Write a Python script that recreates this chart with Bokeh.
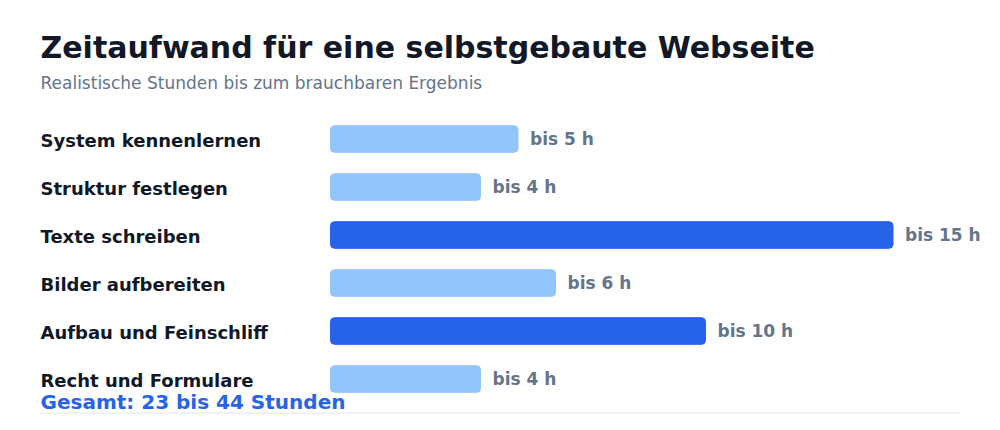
import numpy as np
from bokeh.plotting import figure
from bokeh.models import ColumnDataSource, Range1d
from bokeh.core.properties import value
from bokeh.embed import file_html
from bokeh.resources import INLINE

title_text = "Zeitaufwand für eine selbstgebaute Webseite"
subtitle_text = "Realistische Stunden bis zum brauchbaren Ergebnis"
categories = ["System kennenlernen", "Struktur festlegen", "Texte schreiben",
              "Bilder aufbereiten", "Aufbau und Feinschliff", "Recht und Formulare"]
hours = [5, 4, 15, 6, 10, 4]
highlight = [False, False, True, False, True, False]
total_text = "Gesamt: 23 bis 44 Stunden"

W, H = 984, 414
PX_PER_H = 37.5
BAR0 = 330          # pixel x of zero
ROW = 48            # pixel per row
ROW0 = 138.5        # pixel y of first row centre

x_range = Range1d(-BAR0 / PX_PER_H, (W - BAR0) / PX_PER_H)
y_range = Range1d((H - ROW0) / ROW, -ROW0 / ROW)

p = figure(width=W, height=H, x_range=x_range, y_range=y_range,
           output_backend="svg", toolbar_location=None, title=None,
           x_axis_type=None, y_axis_type=None, min_border=0,
           min_border_left=0, min_border_right=0, min_border_top=0, min_border_bottom=0)
p.outline_line_color = None
p.xgrid.visible = False
p.ygrid.visible = False
p.background_fill_color = "white"
p.border_fill_color = "white"

ys = list(range(len(categories)))
colors = ["#2563eb" if h else "#93c5fd" for h in highlight]
src = ColumnDataSource(dict(y=ys, cat=categories, hours=hours, color=colors,
                            lab=[f"bis {h} h" for h in hours]))

p.hbar(y="y", left=0, right="hours", height=0.555, color="color", source=src,
       border_radius=4)

font = value("DejaVu Sans")
LX = -290
p.text(x=0, y="y", text="cat", source=src, x_offset=LX, y_offset=1, text_baseline="middle",
       text_align="left", text_font=font, text_font_style="bold",
       text_font_size="18px", text_color="#111827")
p.text(x="hours", y="y", text="lab", source=src, x_offset=12, text_baseline="middle",
       text_align="left", text_font=font, text_font_style="bold",
       text_font_size="17px", text_color="#64748b")

p.text(x=[0], y=[(47 - ROW0) / ROW], text=[title_text], x_offset=LX,
       text_baseline="middle", text_font=font, text_font_style="bold",
       text_font_size="30px", text_color="#111827")
p.text(x=[0], y=[(82 - ROW0) / ROW], text=[subtitle_text], x_offset=LX,
       text_baseline="middle", text_font=font,
       text_font_size="17px", text_color="#64748b")
p.text(x=[0], y=[(401.5 - ROW0) / ROW], text=[total_text], x_offset=LX,
       text_baseline="middle", text_font=font, text_font_style="bold",
       text_font_size="20px", text_color="#2563eb")
p.segment(x0=[LX / PX_PER_H], x1=[(960 - BAR0) / PX_PER_H],
          y0=[(412.5 - ROW0) / ROW], y1=[(412.5 - ROW0) / ROW],
          line_color="#eceef2", line_width=1.5)

open("out.html", "w").write(file_html(p, INLINE))
